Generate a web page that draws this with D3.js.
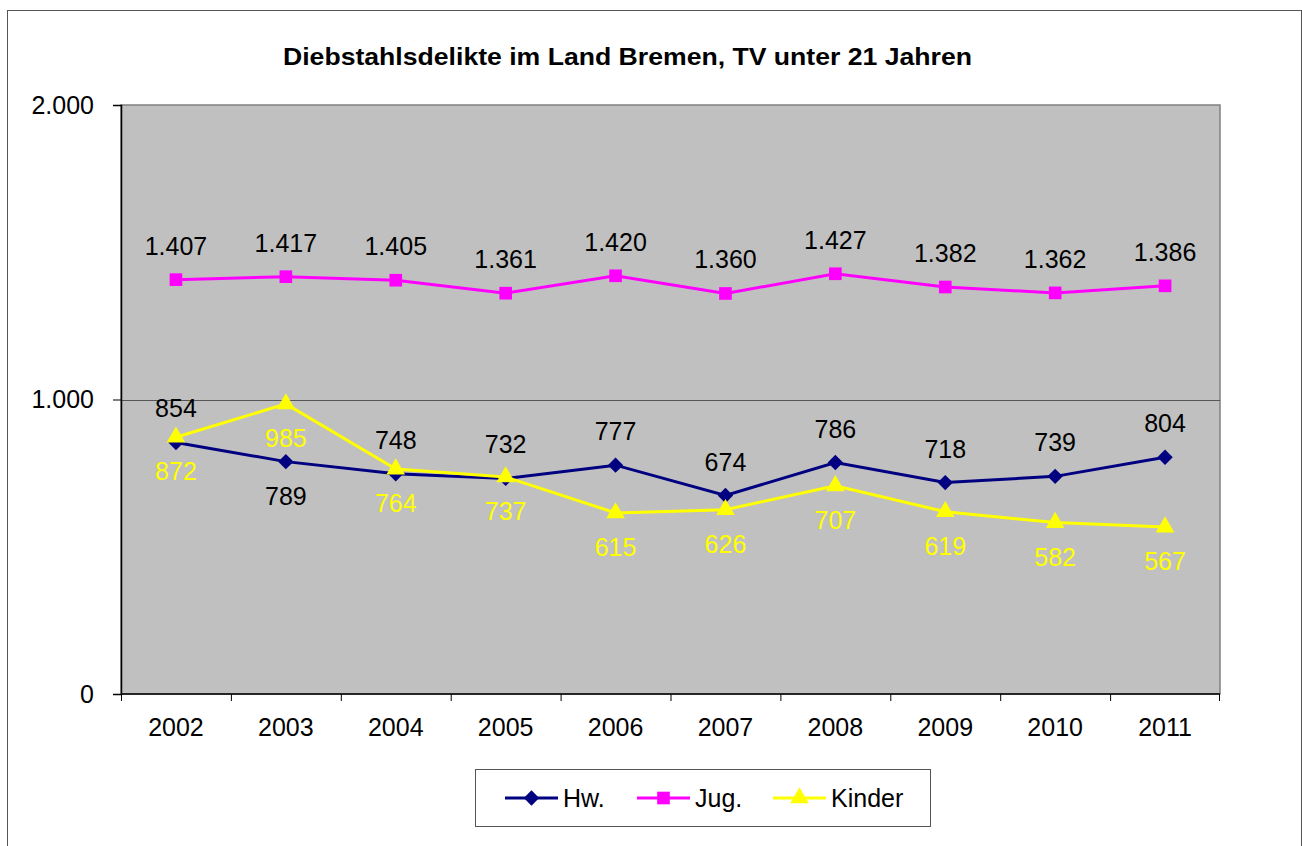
<!DOCTYPE html>
<html>
<head>
<meta charset="utf-8">
<script src="https://cdn.jsdelivr.net/npm/d3@7"></script>
<style>
  body { margin: 0; background: #fff; }
  svg { display: block; font-family: "Liberation Sans", Arial, sans-serif; }
</style>
</head>
<body>
<svg id="chart" width="1302" height="846"></svg>
<script>
const years = ['2002', '2003', '2004', '2005', '2006', '2007', '2008', '2009', '2010', '2011'];
const hw = [854, 789, 748, 732, 777, 674, 786, 718, 739, 804];
const jug = [1407, 1417, 1405, 1361, 1420, 1360, 1427, 1382, 1362, 1386];
const kinder = [872, 985, 764, 737, 615, 626, 707, 619, 582, 567];
// where each value label sits relative to its point
const hwLabelPos = ['above', 'below', 'above', 'above', 'above', 'above', 'above', 'above', 'above', 'above'];
const jugLabelPos = years.map(() => 'above');
const kinderLabelPos = years.map(() => 'below');
const yTicks = [0, 1000, 2000];

const diamond = d3.symbolDiamond2 || d3.symbolDiamond;

const series = [
    { name: 'Hw.', values: hw, pos: hwLabelPos, color: '#000080', labelColor: '#000', symbol: diamond, size: 150 },
    { name: 'Jug.', values: jug, pos: jugLabelPos, color: '#FF00FF', labelColor: '#000', symbol: d3.symbolSquare, size: 160 },
    { name: 'Kinder', values: kinder, pos: kinderLabelPos, color: '#FFFF00', labelColor: '#FFFF00', symbol: d3.symbolTriangle, size: 150 }
];

const de = d3.formatLocale({ decimal: ',', thousands: '.', grouping: [3], currency: ['', ' €'] });
const fmt = de.format(',d');
const fontSize = '25px';

const svg = d3.select('#chart');
const plot = { left: 121, right: 1220, top: 105, bottom: 694 };

// outer chart border
svg.append('rect')
    .attr('x', 7.5).attr('y', 10.5)
    .attr('width', 1294).attr('height', 860)
    .attr('fill', '#fff')
    .attr('stroke', '#555').attr('stroke-width', 1);

svg.append('text')
    .attr('x', 627.5).attr('y', 65)
    .attr('text-anchor', 'middle')
    .attr('font-size', '24px')
    .attr('font-weight', 'bold')
    .attr('textLength', 689)
    .attr('lengthAdjust', 'spacingAndGlyphs')
    .text('Diebstahlsdelikte im Land Bremen, TV unter 21 Jahren');

const x = d3.scaleBand().domain(years).range([plot.left, plot.right]).padding(0);
const y = d3.scaleLinear().domain([0, 2000]).range([plot.bottom, plot.top]);

// plot area
svg.append('rect')
    .attr('x', plot.left).attr('y', plot.top)
    .attr('width', plot.right - plot.left).attr('height', plot.bottom - plot.top)
    .attr('fill', '#C0C0C0')
    .attr('stroke', '#808080').attr('stroke-width', 1.5);

// grid
svg.append('g')
    .selectAll('line')
    .data(yTicks.filter(d => d > 0 && d < 2000))
    .join('line')
    .attr('x1', plot.left).attr('x2', plot.right)
    .attr('y1', d => Math.round(y(d)) + 0.5).attr('y2', d => Math.round(y(d)) + 0.5)
    .attr('stroke', '#555').attr('stroke-width', 1);

// y axis
svg.append('g')
    .attr('transform', `translate(${plot.left},0)`)
    .call(d3.axisLeft(y).tickValues(yTicks).tickSize(8).tickPadding(19).tickFormat(fmt))
    .call(g => g.selectAll('line').attr('stroke', '#000'))
    .call(g => g.select('.domain').attr('stroke', '#000').attr('stroke-width', 1.5))
    .selectAll('text')
    .attr('font-size', fontSize)
    .attr('fill', '#000')
    .attr('font-family', '"Liberation Sans", Arial, sans-serif');

// x axis
const xAxis = svg.append('g').attr('transform', `translate(0,${plot.bottom})`);
xAxis.append('line')
    .attr('x1', plot.left).attr('x2', plot.right)
    .attr('y1', 0).attr('y2', 0)
    .attr('stroke', '#000').attr('stroke-width', 1.5);
xAxis.selectAll('.tick')
    .data(years.concat(['end']))
    .join('line')
    .attr('x1', (d, i) => i < years.length ? x(d) + 0.5 : plot.right - 0.5)
    .attr('x2', (d, i) => i < years.length ? x(d) + 0.5 : plot.right - 0.5)
    .attr('y1', 0).attr('y2', 7)
    .attr('stroke', '#000');
xAxis.selectAll('text')
    .data(years)
    .join('text')
    .attr('x', d => x(d) + x.bandwidth() / 2)
    .attr('y', 42)
    .attr('text-anchor', 'middle')
    .attr('font-size', fontSize)
    .text(d => d);

const cx = i => x(years[i]) + x.bandwidth() / 2;

const line = d3.line()
    .x((d, i) => cx(i))
    .y(d => y(d));

series.forEach(s => {
    const g = svg.append('g');
    g.append('path')
        .datum(s.values)
        .attr('fill', 'none')
        .attr('stroke', s.color)
        .attr('stroke-width', 3)
        .attr('d', line);
    g.selectAll('path.marker')
        .data(s.values)
        .join('path')
        .attr('class', 'marker')
        .attr('transform', (d, i) => `translate(${cx(i)},${y(d)})`)
        .attr('d', d3.symbol().type(s.symbol).size(s.size))
        .attr('fill', s.color);
});

// value labels drawn on top
series.forEach(s => {
    svg.append('g')
        .selectAll('text')
        .data(s.values)
        .join('text')
        .attr('x', (d, i) => cx(i))
        .attr('y', (d, i) => s.pos[i] === 'above' ? y(d) - 25 : y(d) + 43)
        .attr('text-anchor', 'middle')
        .attr('font-size', fontSize)
        .attr('fill', s.labelColor)
        .text(d => fmt(d));
});

// legend
const legend = svg.append('g');
legend.append('rect')
    .attr('x', 475.5).attr('y', 769.5)
    .attr('width', 455).attr('height', 57)
    .attr('fill', '#fff')
    .attr('stroke', '#555').attr('stroke-width', 1);

const legendX = [505, 637, 773];
series.forEach((s, i) => {
    const lx = legendX[i];
    const ly = 798;
    legend.append('line')
        .attr('x1', lx).attr('x2', lx + 53)
        .attr('y1', ly).attr('y2', ly)
        .attr('stroke', s.color).attr('stroke-width', 3);
    legend.append('path')
        .attr('transform', `translate(${lx + 26.5},${ly})`)
        .attr('d', d3.symbol().type(s.symbol).size(s.size))
        .attr('fill', s.color);
    legend.append('text')
        .attr('x', lx + 58).attr('y', ly + 9)
        .attr('font-size', fontSize)
        .text(s.name);
});
</script>
</body>
</html>
